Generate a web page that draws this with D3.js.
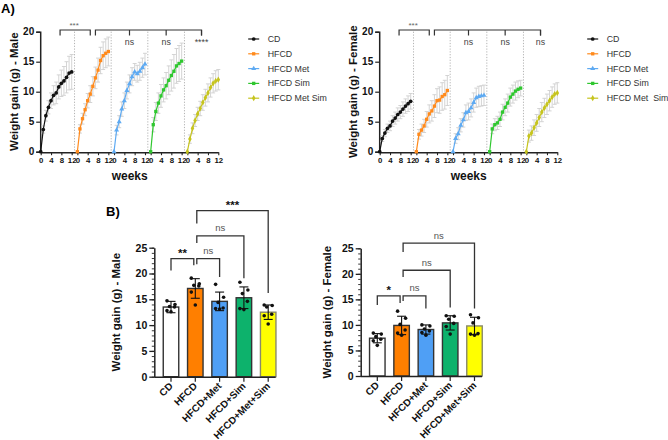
<!DOCTYPE html>
<html>
<head>
<meta charset="utf-8">
<script src="https://cdn.jsdelivr.net/npm/d3@7"></script>
<style>
  body { margin: 0; background: #fff; }
  svg { font-family: Arial, "Liberation Sans", sans-serif; }
</style>
</head>
<body>
<div id="chart"></div>
<script>
// ---- data ----
var weeks = [0, 1, 2, 3, 4, 5, 6, 7, 8, 9, 10, 11, 12];
var groups = ["CD", "HFCD", "HFCD Met", "HFCD Sim", "HFCD Met Sim"];
var groupsF = ["CD", "HFCD", "HFCD Met", "HFCD Sim", "HFCD Met  Sim"];
var lineColors = ["#111111", "#ff8a1c", "#5eaaf2", "#2fc72f", "#c6c41e"];
var barGroups = ["CD", "HFCD", "HFCD+Met", "HFCD+Sim", "HFCD+Met+Sim"];
var barColors = ["#ffffff", "#ff7f00", "#4f9ff5", "#0db26c", "#ffff00"];

// weight gain over time, males (mean)
var maleCD     = [0, 3.7, 6.0, 7.4, 8.5, 9.4, 9.8, 10.8, 11.4, 11.8, 12.4, 13.1, 13.3];
var maleHFCD   = [0, 3.8, 5.5, 7.0, 8.5, 9.6, 10.9, 12.3, 13.6, 15.2, 16.0, 16.4, 16.7];
var maleMet    = [0, 3.6, 5.0, 7.1, 8.5, 10.2, 11.3, 12.5, 13.3, 13.0, 13.4, 14.0, 14.6];
var maleSim    = [0, 4.5, 6.7, 8.1, 9.3, 10.3, 11.0, 11.9, 12.7, 13.4, 14.3, 14.7, 15.1];
var maleMetSim = [0, 2.1, 3.9, 5.2, 6.3, 7.2, 8.2, 9.0, 9.8, 10.7, 11.4, 11.8, 12.0];
// SD
var maleCDsd     = [0, 0.6, 0.9, 1.1, 1.3, 1.6, 1.8, 2.0, 2.2, 2.4, 2.6, 2.8, 2.9];
var maleHFCDsd   = [0, 0.7, 0.9, 1.0, 1.2, 1.4, 1.6, 1.8, 2.0, 2.2, 2.3, 2.4, 2.4];
var maleMetsd    = [0, 0.8, 1.0, 1.2, 1.3, 1.4, 1.5, 1.5, 1.4, 1.4, 1.5, 1.6, 1.8];
var maleSimsd    = [0, 1.2, 1.5, 1.7, 1.9, 2.0, 2.2, 2.4, 2.6, 2.8, 2.9, 3.0, 3.0];
var maleMetSimsd = [0, 0.7, 0.9, 1.0, 1.1, 1.2, 1.3, 1.4, 1.5, 1.6, 1.6, 1.7, 1.7];

// weight gain over time, females (mean)
var femCD     = [0, 2.2, 3.1, 3.9, 4.3, 5.1, 5.6, 6.2, 6.6, 7.1, 7.6, 8.0, 8.4];
var femHFCD   = [0, 2.9, 3.6, 4.3, 5.4, 6.3, 6.8, 7.6, 8.5, 8.6, 9.2, 9.5, 10.2];
var femMet    = [0, 2.2, 3.0, 4.4, 5.3, 6.5, 6.7, 7.3, 8.2, 9.0, 9.2, 9.3, 9.4];
var femSim    = [0, 3.8, 4.5, 4.8, 5.4, 6.6, 7.4, 8.1, 9.1, 9.6, 10.1, 10.4, 10.6];
var femMetSim = [0, 2.6, 3.1, 4.0, 4.8, 5.7, 6.6, 7.3, 7.9, 8.5, 9.1, 9.6, 9.8];
var femCDsd     = [0, 0.5, 0.6, 0.7, 0.8, 0.9, 1.0, 1.1, 1.1, 1.2, 1.2, 1.3, 1.3];
var femHFCDsd   = [0, 0.8, 1.0, 1.1, 1.3, 1.5, 1.7, 1.9, 2.0, 2.2, 2.3, 2.4, 2.5];
var femMetsd    = [0, 0.8, 1.0, 1.1, 1.2, 1.3, 1.4, 1.5, 1.6, 1.6, 1.7, 1.7, 1.7];
var femSimsd    = [0, 0.8, 1.0, 1.1, 1.2, 1.3, 1.4, 1.5, 1.5, 1.5, 1.5, 1.4, 1.3];
var femMetSimsd = [0, 1.0, 1.2, 1.3, 1.4, 1.5, 1.6, 1.6, 1.7, 1.7, 1.7, 1.7, 1.7];

// final weight gain, bars (mean, SD, individual animals)
var maleBarMean = [13.5, 17.1, 14.6, 15.3, 12.5];
var maleBarSD   = [1.1, 1.9, 1.8, 2.1, 1.4];
var maleDots = [
  [14.7, 14.0, 13.6, 13.5, 12.8, 12.6],
  [19.1, 18.0, 17.7, 17.6, 16.4, 13.9],
  [17.9, 15.4, 14.4, 13.3, 13.2, 13.1],
  [18.3, 16.8, 16.1, 14.6, 13.2, 13.0],
  [13.9, 13.8, 13.5, 12.1, 11.8, 10.2]
];
var femBarMean = [7.4, 9.9, 9.1, 10.4, 9.8];
var femBarSD   = [0.9, 1.8, 0.9, 1.4, 1.7];
var femDots = [
  [8.4, 8.2, 7.7, 7.2, 6.9, 6.0],
  [12.7, 11.3, 10.1, 9.0, 8.4, 8.0],
  [10.0, 9.8, 9.2, 8.8, 8.5, 8.0],
  [11.8, 11.7, 11.1, 10.3, 9.7, 8.2],
  [12.0, 11.4, 10.4, 8.3, 8.2, 8.0]
];

// significance annotations
var maleLineStats = ["***", "ns", "ns", "****"];
var femLineStats  = ["***", "ns", "ns", "ns"];
var maleBarStats  = ["**", "ns", "ns", "***"];
var femBarStats   = ["*", "ns", "ns", "ns"];

var W = 668, H = 440;
var svg = d3.select("#chart").append("svg")
  .attr("width", W).attr("height", H);

var SEG = 14.2; // weeks between the start of two segments on the x axis

function drawLines(x0, means, sds, legendNames, yTitle, stats) {
  var x = d3.scaleLinear().domain([0, 4 * SEG + 12]).range([x0, x0 + 177.6]);
  var y = d3.scaleLinear().domain([0, 20]).range([151.7, 31.7]);
  var g = svg.append("g");

  // y axis
  g.append("g")
    .attr("transform", "translate(" + (x0 - 0.5) + ",0)")
    .call(d3.axisLeft(y).tickValues([0, 5, 10, 15, 20]).tickSize(4).tickPadding(2))
    .call(function(a) {
      a.select(".domain").attr("stroke", "#222").attr("stroke-width", 1.5);
      a.selectAll(".tick line").attr("stroke", "#222").attr("stroke-width", 1.2);
      a.selectAll("text").attr("font-size", 10).attr("font-weight", "bold").attr("fill", "#111");
    });

  // x axis, one 0-12 block per group
  var tickVals = [];
  for (var s = 0; s < 5; s++) [0, 4, 8, 12].forEach(function(w) { tickVals.push(s * SEG + w); });
  g.append("g")
    .attr("transform", "translate(0," + (151.7 + 0.5) + ")")
    .call(d3.axisBottom(x).tickValues(tickVals).tickSize(3).tickPadding(2).tickSizeOuter(0)
      .tickFormat(function(d) { return String(Math.round(d - Math.floor((d + 0.01) / SEG) * SEG)); }))
    .call(function(a) {
      a.select(".domain").attr("stroke", "#222").attr("stroke-width", 1.5);
      a.selectAll(".tick line").attr("stroke", "#222").attr("stroke-width", 1.1);
      a.selectAll("text").attr("font-size", 7.8).attr("font-weight", "bold").attr("fill", "#111");
    });

  // dotted separators between blocks
  for (var k = 1; k < 5; k++) {
    var sx = x(k * SEG - (SEG - 12) / 2);
    g.append("line")
      .attr("x1", sx).attr("x2", sx).attr("y1", y(20)).attr("y2", y(0))
      .attr("stroke", "#aaa").attr("stroke-width", 0.9).attr("stroke-dasharray", "1.2,1.6");
  }

  var symbols = [d3.symbolCircle, d3.symbolSquare, d3.symbolTriangle, d3.symbolSquare, d3.symbolDiamond];

  means.forEach(function(m, i) {
    var pts = weeks.map(function(w, j) { return { w: i * SEG + w, v: m[j], sd: sds[i][j] }; });
    // error bars
    var eb = g.append("g").attr("stroke", "#cfcfcf").attr("stroke-width", 0.9);
    pts.forEach(function(p) {
      if (p.sd <= 0) return;
      eb.append("line").attr("x1", x(p.w)).attr("x2", x(p.w))
        .attr("y1", y(p.v - p.sd)).attr("y2", y(p.v + p.sd));
      [p.v - p.sd, p.v + p.sd].forEach(function(e) {
        eb.append("line").attr("x1", x(p.w) - 2).attr("x2", x(p.w) + 2)
          .attr("y1", y(e)).attr("y2", y(e));
      });
    });
    g.append("path")
      .datum(pts)
      .attr("fill", "none").attr("stroke", lineColors[i]).attr("stroke-width", 1.2)
      .attr("d", d3.line().x(function(d) { return x(d.w); }).y(function(d) { return y(d.v); }));
    g.append("g").selectAll("path")
      .data(pts).enter().append("path")
      .attr("transform", function(d) { return "translate(" + x(d.w) + "," + y(d.v) + ")"; })
      .attr("d", d3.symbol().type(symbols[i]).size(11))
      .attr("fill", lineColors[i]);
  });

  // brackets
  var br = g.append("g").attr("stroke", "#333").attr("stroke-width", 1.2).attr("fill", "none");
  var by = 30;
  var a1 = x(7.5), a2 = x(SEG + 5);
  br.append("path").attr("d", "M" + a1 + "," + (by + 5.5) + "V" + by + "H" + a2 + "V" + (by + 5.5));
  g.append("text").attr("x", (a1 + a2) / 2 - 1).attr("y", by - 2.5)
    .attr("text-anchor", "middle").attr("font-size", 8).attr("fill", "#666").text(stats[0]);
  var b1 = x(SEG + 7);
  var ends = [x(2 * SEG + 6), x(3 * SEG + 6), x(4 * SEG + 5.5)];
  br.append("path").attr("d", "M" + b1 + "," + (by + 5.5) + "V" + by + "H" + ends[2] + "V" + (by + 5.5));
  ends.forEach(function(ex, i) {
    br.append("line").attr("x1", ex).attr("x2", ex).attr("y1", by).attr("y2", by + 5.5);
    g.append("text").attr("x", ex).attr("y", by + 15)
      .attr("text-anchor", "middle").attr("font-size", 8.8).attr("fill", "#444").text(stats[i + 1]);
  });

  // legend
  var lg = g.append("g").attr("transform", "translate(" + (x0 + 207.5) + ",39)");
  legendNames.forEach(function(n, i) {
    var r = lg.append("g").attr("transform", "translate(0," + (i * 14.8) + ")");
    r.append("line").attr("x1", 0).attr("x2", 11).attr("stroke", lineColors[i]).attr("stroke-width", 1.2);
    r.append("path").attr("transform", "translate(5.5,0)")
      .attr("d", d3.symbol().type(symbols[i]).size(11)).attr("fill", lineColors[i]);
    r.append("text").attr("x", 19.5).attr("y", 3).attr("font-size", 8.8).attr("fill", "#333")
      .style("white-space", "pre").text(n);
  });

  // titles
  g.append("text")
    .attr("transform", "translate(" + (x0 - 23) + "," + y(10) + ") rotate(-90)")
    .attr("text-anchor", "middle").attr("font-size", 11.5).attr("font-weight", "bold").attr("fill", "#111")
    .text(yTitle);
  g.append("text").attr("x", x0 + 89).attr("y", 180)
    .attr("text-anchor", "middle").attr("font-size", 12).attr("font-weight", "bold").attr("fill", "#111")
    .text("weeks");
}

function drawBars(x0, y0, yTop, cx0, means, sds, dots, yTitle, titleX, stats, brk) {
  var y = d3.scaleLinear().domain([0, 25]).range([y0, yTop]);
  var x = d3.scalePoint().domain(barGroups).range([cx0, cx0 + 97.2]);
  var g = svg.append("g");
  var bw = 15.5;

  // y axis with minor ticks
  g.append("g")
    .attr("transform", "translate(" + x0 + ",0)")
    .call(d3.axisLeft(y).ticks(25).tickSize(2.5).tickFormat("").tickSizeOuter(0))
    .call(function(a) {
      a.select(".domain").attr("stroke", "#222").attr("stroke-width", 1.5);
      a.selectAll(".tick line").attr("stroke", "#222").attr("stroke-width", 0.9);
    });
  g.append("g")
    .attr("transform", "translate(" + x0 + ",0)")
    .call(d3.axisLeft(y).tickValues([0, 5, 10, 15, 20, 25]).tickSize(5).tickPadding(2))
    .call(function(a) {
      a.select(".domain").remove();
      a.selectAll(".tick line").attr("stroke", "#222").attr("stroke-width", 1.3);
      a.selectAll("text").attr("font-size", 10.5).attr("font-weight", "bold").attr("fill", "#111");
    });

  // bars
  g.append("g").selectAll("rect")
    .data(means).enter().append("rect")
    .attr("x", function(d, i) { return x(barGroups[i]) - bw / 2; })
    .attr("y", function(d) { return y(d); })
    .attr("width", bw)
    .attr("height", function(d) { return y(0) - y(d); })
    .attr("fill", function(d, i) { return barColors[i]; })
    .attr("stroke", function(d, i) { return i == 4 ? "#8a8a6a" : "#333"; })
    .attr("stroke-width", 1.4);

  // x axis
  g.append("line").attr("x1", x0).attr("x2", x(barGroups[4]) + 7.5)
    .attr("y1", y0 + 0.5).attr("y2", y0 + 0.5).attr("stroke", "#222").attr("stroke-width", 1.5);
  barGroups.forEach(function(b) {
    g.append("line").attr("x1", x(b)).attr("x2", x(b)).attr("y1", y0 + 0.5).attr("y2", y0 + 5)
      .attr("stroke", "#222").attr("stroke-width", 1.2);
    g.append("text")
      .attr("transform", "translate(" + (x(b) + 2.5) + "," + (y0 + 10) + ") rotate(-45)")
      .attr("text-anchor", "end").attr("font-size", 10).attr("font-weight", "bold").attr("fill", "#111")
      .text(b);
  });

  // SD bars and individual points
  means.forEach(function(m, i) {
    var cx = x(barGroups[i]);
    var eg = g.append("g").attr("stroke", "#111").attr("stroke-width", 1.1);
    eg.append("line").attr("x1", cx).attr("x2", cx).attr("y1", y(m - sds[i])).attr("y2", y(m + sds[i]));
    [m - sds[i], m + sds[i]].forEach(function(e) {
      eg.append("line").attr("x1", cx - 4.5).attr("x2", cx + 4.5).attr("y1", y(e)).attr("y2", y(e));
    });
    g.append("g").selectAll("circle")
      .data(dots[i]).enter().append("circle")
      .attr("cx", function(d, j) { return cx + [-4, 4, -1.5, 3.5, -4, 0][j]; })
      .attr("cy", function(d) { return y(d); })
      .attr("r", 1.8).attr("fill", "#111");
  });

  // significance brackets: [groupA, groupB, level, legA, legB]
  var bg = g.append("g").attr("stroke", "#333").attr("stroke-width", 1.3).attr("fill", "none");
  brk.forEach(function(b, i) {
    var xa = x(barGroups[b[0]]) + (b[0] == 1 ? 1.5 : 0);
    var xb = x(barGroups[b[1]]) + (b[1] == 1 ? -1.5 : 0);
    bg.append("path").attr("d", "M" + xa + "," + y(b[3]) + "V" + y(b[2]) + "H" + xb + "V" + y(b[4]));
    var isStar = stats[i] != "ns";
    g.append("text").attr("x", (xa + xb) / 2).attr("y", y(b[2]) - (isStar ? 2 : 4.5))
      .attr("text-anchor", "middle").attr("font-size", isStar ? 11.5 : 9.5)
      .attr("font-weight", isStar ? "bold" : "normal")
      .attr("fill", isStar ? "#111" : "#555").text(stats[i]);
  });

  g.append("text")
    .attr("transform", "translate(" + titleX + "," + y(12.5) + ") rotate(-90)")
    .attr("text-anchor", "middle").attr("font-size", 11.5).attr("font-weight", "bold").attr("fill", "#111")
    .text(yTitle);
}

drawLines(40.7, [maleCD, maleHFCD, maleMet, maleSim, maleMetSim],
  [maleCDsd, maleHFCDsd, maleMetsd, maleSimsd, maleMetSimsd], groups, "Weight gain (g) - Male", maleLineStats);
drawLines(379.7, [femCD, femHFCD, femMet, femSim, femMetSim],
  [femCDsd, femHFCDsd, femMetsd, femSimsd, femMetSimsd], groupsF, "Weight gain (g) - Female", femLineStats);

drawBars(154.3, 376.7, 247.7, 171, maleBarMean, maleBarSD, maleDots, "Weight gain (g) - Male", 120, maleBarStats,
  [[0, 1, 22.9, 20.6, 21.6], [1, 2, 22.9, 21.8, 19.3], [1, 3, 27.3, 25.9, 19.1], [1, 4, 32.2, 29.7, 16.2]]);
drawBars(360.7, 376, 248.3, 377.3, femBarMean, femBarSD, femDots, "Weight gain (g) - Female", 331, femBarStats,
  [[0, 1, 15.7, 13.9, 14.3], [1, 2, 15.7, 14.7, 13.2], [1, 3, 20.7, 19.4, 13.4], [1, 4, 26.0, 24.3, 13.2]]);

// panel letters
svg.append("text").attr("x", 1).attr("y", 13).attr("font-size", 13).attr("font-weight", "bold").text("A)");
svg.append("text").attr("x", 106).attr("y", 216).attr("font-size", 13).attr("font-weight", "bold").text("B)");
</script>
</body>
</html>
